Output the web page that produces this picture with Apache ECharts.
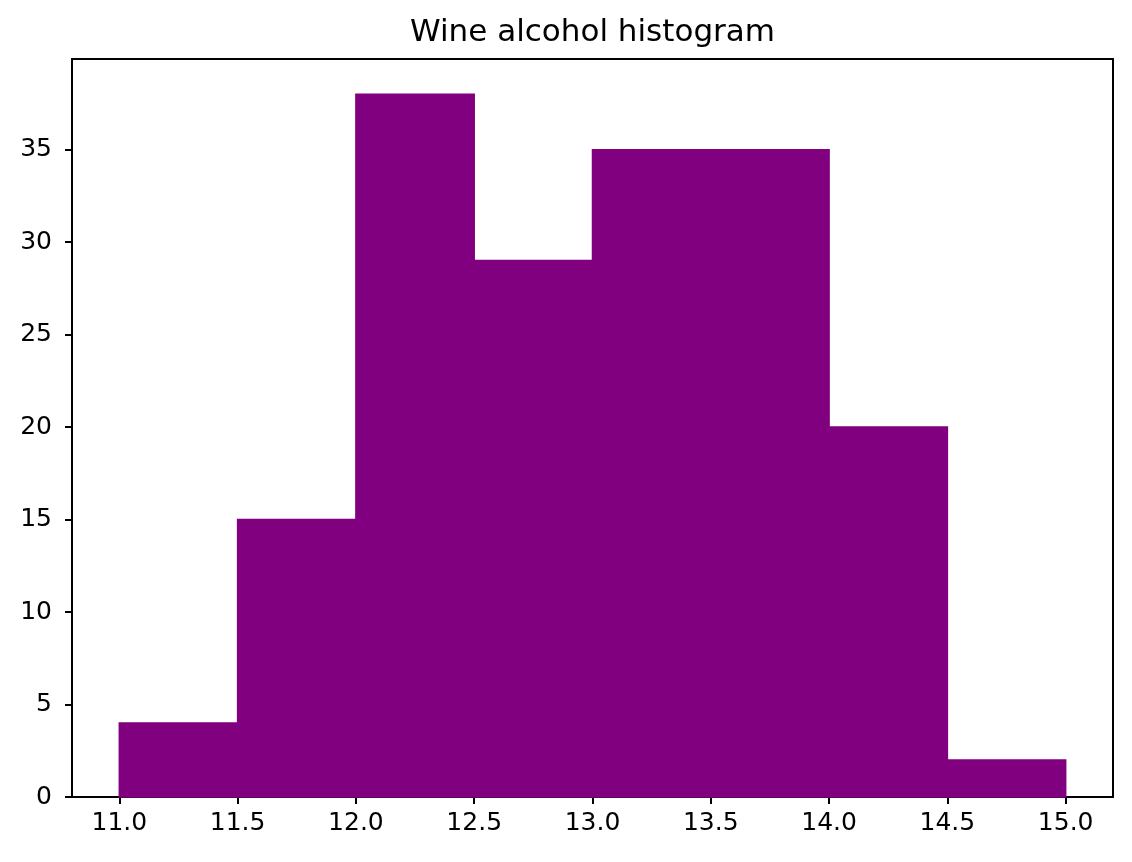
<!DOCTYPE html>
<html>
<head>
<meta charset="utf-8">
<script src="https://cdn.jsdelivr.net/npm/echarts@6/dist/echarts.min.js"></script>
<style>
html,body{margin:0;padding:0;background:#fff;}
#c{width:1132px;height:862px;}
</style>
</head>
<body>
<div id="c"></div>
<script>
const binStarts = [11.0, 11.5, 12.0, 12.5, 13.0, 13.5, 14.0, 14.5];
const binEnds   = [11.5, 12.0, 12.5, 13.0, 13.5, 14.0, 14.5, 15.0];
const counts    = [4, 15, 38, 29, 35, 35, 20, 2];
const xTicks = [11.0, 11.5, 12.0, 12.5, 13.0, 13.5, 14.0, 14.5, 15.0];
const yTicks = [0, 5, 10, 15, 20, 25, 30, 35];
const titleText = 'Wine alcohol histogram';

const data = binStarts.map((s, i) => [s, binEnds[i], counts[i]]);
const FONT = 'DejaVu Sans';

const chart = echarts.init(document.getElementById('c'), null, {renderer: 'canvas'});
chart.setOption({
  animation: false,
  backgroundColor: '#fff',
  graphic: [{
    type: 'text',
    x: 592.5, y: 48,
    style: {
      text: titleText, textAlign: 'center', textVerticalAlign: 'bottom',
      font: '31px "DejaVu Sans"', fill: '#000'
    }
  }],
  grid: {
    left: 72, right: 19, top: 59, bottom: 65,
    show: true, borderColor: '#000', borderWidth: 2, backgroundColor: 'transparent'
  },
  xAxis: {
    type: 'value',
    min: 10.8, max: 15.2,
    splitLine: {show: false},
    axisLine: {show: true, onZero: false, lineStyle: {color: '#000', width: 2}},
    axisTick: {show: true, customValues: xTicks, length: 7, lineStyle: {color: '#000', width: 2}},
    axisLabel: {
      customValues: xTicks, margin: 14,
      fontFamily: FONT, fontSize: 25, color: '#000',
      formatter: v => v.toFixed(1)
    }
  },
  yAxis: {
    type: 'value',
    min: 0, max: 39.9,
    splitLine: {show: false},
    axisLine: {show: true, lineStyle: {color: '#000', width: 2}},
    axisTick: {show: true, customValues: yTicks, length: 7, lineStyle: {color: '#000', width: 2}},
    axisLabel: {
      customValues: yTicks, margin: 20,
      fontFamily: FONT, fontSize: 25, color: '#000',
      formatter: v => String(v)
    }
  },
  series: [{
    type: 'custom',
    data: data,
    encode: {x: [0, 1], y: 2},
    renderItem: function (params, api) {
      const p0 = api.coord([api.value(0), 0]);
      const p1 = api.coord([api.value(1), api.value(2)]);
      return {
        type: 'rect',
        shape: {x: p0[0], y: p1[1], width: p1[0] - p0[0], height: p0[1] - p1[1]},
        style: {fill: '#800080', stroke: '#800080', lineWidth: 1.5}
      };
    },
    z: 1
  }]
});
</script>
</body>
</html>
